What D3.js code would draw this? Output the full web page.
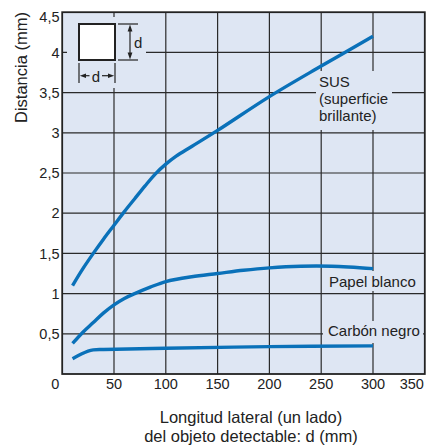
<!DOCTYPE html>
<html>
<head>
<meta charset="utf-8">
<script src="https://cdn.jsdelivr.net/npm/d3@7"></script>
<style>
  body { margin: 0; background: #fff; }
  svg { display: block; font-family: "Liberation Sans", Arial, Helvetica, sans-serif; }
</style>
</head>
<body>
<svg id="chart" width="427" height="448"></svg>
<script>
// Axis ticks
const xTickValues = [0, 50, 100, 150, 200, 250, 300, 350];
const yTickValues = [0.5, 1, 1.5, 2, 2.5, 3, 3.5, 4, 4.5];
const yTickLabels = ["0,5", "1", "1,5", "2", "2,5", "3", "3,5", "4", "4,5"];

// Detection distance (mm) versus side length d (mm) of the target
const susSeries = [
  [10, 1.10], [20, 1.31], [30, 1.50], [40, 1.68], [50, 1.85], [60, 2.02],
  [70, 2.18], [80, 2.34], [90, 2.49], [100, 2.61], [110, 2.71], [125, 2.83],
  [150, 3.03], [200, 3.45], [250, 3.83], [300, 4.20]
];
const papelSeries = [
  [10, 0.38], [20, 0.52], [30, 0.64], [40, 0.76], [50, 0.86], [60, 0.94],
  [70, 1.00], [85, 1.08], [100, 1.15], [125, 1.21], [150, 1.25], [175, 1.29],
  [200, 1.32], [230, 1.34], [260, 1.34], [300, 1.31]
];
const carbonSeries = [
  [10, 0.19], [18, 0.245], [25, 0.285], [30, 0.30], [40, 0.305],
  [100, 0.32], [200, 0.34], [300, 0.35]
];

const seriesNames = ["SUS", "Papel blanco", "Carbón negro"];
const susNote = ["SUS", "(superficie", "brillante)"];
const xTitle = ["Longitud lateral (un lado)", "del objeto detectable: d (mm)"];
const yTitle = "Distancia (mm)";

const W = 427, H = 448;
const margin = { left: 62.2, top: 12.2, right: 2.2, bottom: 74 };
const plotW = W - margin.left - margin.right;
const plotH = H - margin.top - margin.bottom;

const x = d3.scaleLinear().domain([0, 350]).range([margin.left, margin.left + plotW]);
const y = d3.scaleLinear().domain([0, 4.5]).range([margin.top + plotH, margin.top]);

const svg = d3.select("#chart");
const plotBg = "#dee6f3";
const ink = "#222";
const lineColor = "#0a71b9";

// plot background
svg.append("rect")
  .attr("x", x(0)).attr("y", y(4.5))
  .attr("width", x(350) - x(0)).attr("height", y(0) - y(4.5))
  .attr("fill", plotBg);

// grid
const grid = svg.append("g").attr("stroke", "#2a2a2a").attr("stroke-width", 1.2);
grid.selectAll("line.v")
  .data(xTickValues.filter(v => v > 0 && v < 350))
  .join("line")
  .attr("x1", d => x(d)).attr("x2", d => x(d))
  .attr("y1", y(0)).attr("y2", y(4.5));
grid.selectAll("line.h")
  .data(yTickValues.filter(v => v < 4.5))
  .join("line")
  .attr("x1", x(0)).attr("x2", x(350))
  .attr("y1", d => y(d)).attr("y2", d => y(d));

// inset sketch: a square target of side d
const inset = svg.append("g");
inset.append("rect")
  .attr("x", 67).attr("y", 17).attr("width", 79).attr("height", 71)
  .attr("fill", plotBg);
const ig = inset.append("g").attr("transform", "translate(79,24)")
  .attr("stroke", ink).attr("fill", ink);
ig.append("rect").attr("x", 0).attr("y", 0).attr("width", 36).attr("height", 36)
  .attr("fill", "#fff").attr("stroke-width", 2);
// vertical dimension
ig.append("line").attr("x1", 39).attr("x2", 59).attr("y1", 0).attr("y2", 0).attr("stroke-width", 1.2);
ig.append("line").attr("x1", 39).attr("x2", 59).attr("y1", 36).attr("y2", 36).attr("stroke-width", 1.2);
ig.append("line").attr("x1", 51).attr("x2", 51).attr("y1", 5).attr("y2", 31).attr("stroke-width", 1.2);
ig.append("path").attr("d", "M51,0.5 L48.6,7.5 L53.4,7.5 Z").attr("stroke", "none");
ig.append("path").attr("d", "M51,35.5 L48.6,28.5 L53.4,28.5 Z").attr("stroke", "none");
ig.append("text").attr("x", 55).attr("y", 24.3).attr("stroke", "none")
  .attr("font-size", 15).text("d");
// horizontal dimension
ig.append("line").attr("x1", 0).attr("x2", 0).attr("y1", 39).attr("y2", 59).attr("stroke-width", 1.2);
ig.append("line").attr("x1", 36).attr("x2", 36).attr("y1", 39).attr("y2", 59).attr("stroke-width", 1.2);
ig.append("line").attr("x1", 4).attr("x2", 10.5).attr("y1", 51.7).attr("y2", 51.7).attr("stroke-width", 1.2);
ig.append("line").attr("x1", 23).attr("x2", 32).attr("y1", 51.7).attr("y2", 51.7).attr("stroke-width", 1.2);
ig.append("path").attr("d", "M0.8,51.7 L7,49.4 L7,54 Z").attr("stroke", "none");
ig.append("path").attr("d", "M35.2,51.7 L29,49.4 L29,54 Z").attr("stroke", "none");
ig.append("text").attr("x", 17).attr("y", 57.5).attr("stroke", "none")
  .attr("text-anchor", "middle").attr("font-size", 15).text("d");

// label backdrops that interrupt the grid
const backdrops = [
  { x0: 316, y0: 71, x1: 392, y1: 130 },
  { x0: 326, y0: 271, x1: 419, y1: 291 },
  { x0: 323, y0: 321, x1: 423, y1: 343 }
];
svg.append("g").selectAll("rect").data(backdrops).join("rect")
  .attr("x", d => d.x0).attr("y", d => d.y0)
  .attr("width", d => d.x1 - d.x0).attr("height", d => d.y1 - d.y0)
  .attr("fill", plotBg);

// curves
const line = d3.line().x(d => x(d[0])).y(d => y(d[1])).curve(d3.curveCatmullRom.alpha(0.5));
svg.append("g").selectAll("path")
  .data([susSeries, papelSeries, carbonSeries])
  .join("path")
  .attr("d", line)
  .attr("fill", "none")
  .attr("stroke", lineColor)
  .attr("stroke-width", 3.4);

// curve labels
const labels = svg.append("g").attr("fill", ink).attr("font-size", 15);
labels.append("text").attr("x", 319).attr("y", 87)
  .selectAll("tspan").data(susNote).join("tspan")
  .attr("x", 319).attr("dy", (d, i) => i === 0 ? 0 : 16.8).text(d => d);
labels.append("text").attr("x", 329).attr("y", 286.7).text(seriesNames[1]);
labels.append("text").attr("x", 328).attr("y", 336).text(seriesNames[2]);

// frame
svg.append("rect")
  .attr("x", x(0)).attr("y", y(4.5))
  .attr("width", x(350) - x(0)).attr("height", y(0) - y(4.5))
  .attr("fill", "none").attr("stroke", ink).attr("stroke-width", 1.8);

// x tick labels
svg.append("g").attr("fill", ink).attr("font-size", 14.5)
  .selectAll("text").data(xTickValues).join("text")
  .attr("x", d => x(d) + (d === 0 ? -7 : d === 350 ? -13 : 0))
  .attr("y", 388.5)
  .attr("text-anchor", "middle")
  .text(d => String(d));

// y tick labels
svg.append("g").attr("fill", ink).attr("font-size", 14.5)
  .selectAll("text").data(yTickValues).join("text")
  .attr("x", 59.5)
  .attr("y", d => Math.max(y(d), 17))
  .attr("dy", "0.36em")
  .attr("text-anchor", "end")
  .text((d, i) => yTickLabels[i]);

// axis titles
svg.append("g").attr("fill", ink).attr("font-size", 16.5)
  .selectAll("text").data(xTitle).join("text")
  .attr("x", 251).attr("y", (d, i) => 422.7 + i * 19)
  .attr("text-anchor", "middle").text(d => d);
svg.append("text")
  .attr("transform", "translate(26.5,67.5) rotate(-90)")
  .attr("text-anchor", "middle").attr("fill", ink).attr("font-size", 16.5)
  .text(yTitle);
</script>
</body>
</html>
